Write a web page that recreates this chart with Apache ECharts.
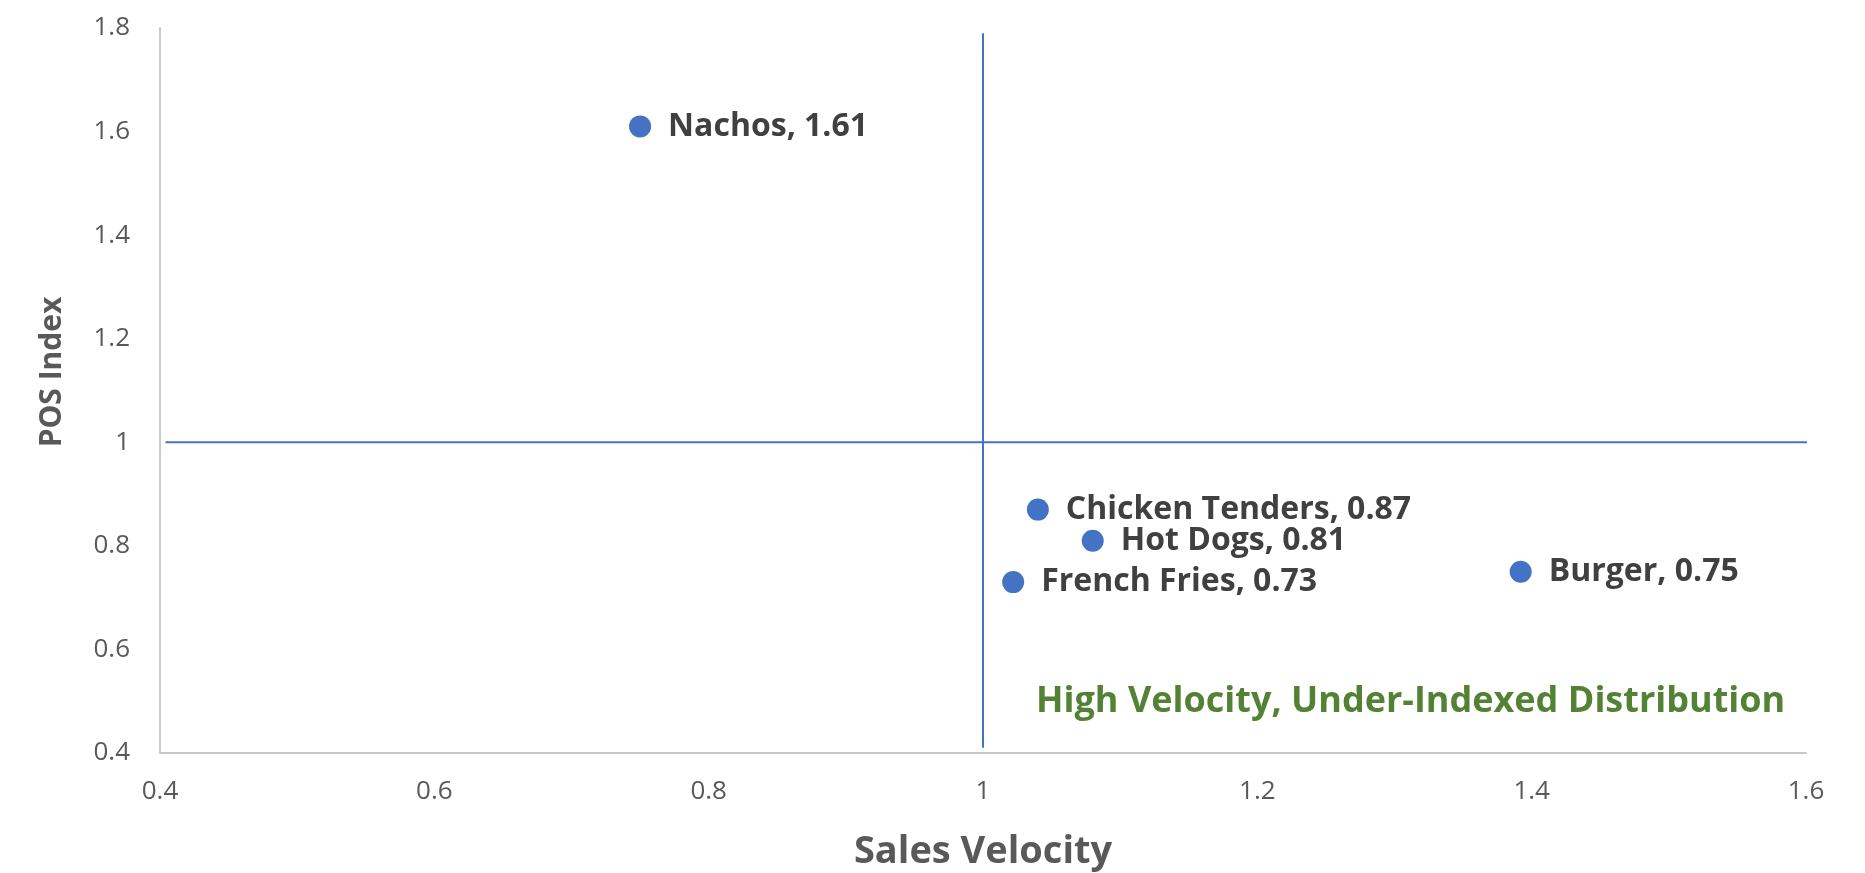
<!DOCTYPE html>
<html>
<head>
<meta charset="utf-8">
<script src="https://cdn.jsdelivr.net/npm/echarts@6/dist/echarts.min.js"></script>
<style>
html,body{margin:0;padding:0;background:#fff;}
#chart{width:1865px;height:873px;}
</style>
</head>
<body>
<div id="chart"></div>
<script>
// Data
var products = ['Nachos', 'Chicken Tenders', 'Hot Dogs', 'French Fries', 'Burger'];
var salesVelocity = [0.75, 1.04, 1.08, 1.022, 1.392];
var posIndex = [1.61, 0.87, 0.81, 0.73, 0.75];
var xTickLabels = ['0.4', '0.6', '0.8', '1', '1.2', '1.4', '1.6'];
var yTickLabels = ['0.4', '0.6', '0.8', '1', '1.2', '1.4', '1.6', '1.8'];
var hLineX = [0.404, 1.606];
var hLineY = [1, 1];
var vLineX = [1, 1];
var vLineY = [0.41, 1.79];
var quadrantNote = 'High Velocity, Under-Indexed Distribution';
var xTitle = 'Sales Velocity';
var yTitle = 'POS Index';

var FONT = '"Open Sans", "DejaVu Sans", sans-serif';
var chart = echarts.init(document.getElementById('chart'), null, {renderer: 'canvas'});

function tickFmt(labels, min, step) {
  return function (v) {
    var i = Math.round((v - min) / step);
    return labels[i] !== undefined ? labels[i] : '';
  };
}

var points = products.map(function (n, i) { return {name: n, value: [salesVelocity[i], posIndex[i]]}; });

chart.setOption({
  animation: false,
  backgroundColor: '#ffffff',
  grid: {left: 160, right: 59, top: 28, bottom: 120, containLabel: false, outerBoundsMode: 'none'},
  xAxis: {
    type: 'value', min: 0.4, max: 1.6, interval: 0.2,
    name: xTitle, nameLocation: 'middle', nameGap: 80,
    nameTextStyle: {fontFamily: FONT, fontWeight: 'bold', fontSize: 38, color: '#595959'},
    axisLine: {show: true, lineStyle: {color: '#c8c8c8', width: 2}},
    axisTick: {show: false},
    splitLine: {show: false},
    axisLabel: {margin: 26, fontFamily: FONT, fontSize: 26, color: '#595959', formatter: tickFmt(xTickLabels, 0.4, 0.2)}
  },
  yAxis: {
    type: 'value', min: 0.4, max: 1.8, interval: 0.2,
    axisLine: {show: true, lineStyle: {color: '#c8c8c8', width: 2}},
    axisTick: {show: false},
    splitLine: {show: false},
    axisLabel: {margin: 30, fontFamily: FONT, fontSize: 26, color: '#595959', formatter: tickFmt(yTickLabels, 0.4, 0.2)}
  },
  graphic: [
    {type: 'text', x: 52, y: 372, rotation: Math.PI / 2,
      style: {text: yTitle, font: 'bold 30px ' + FONT, fill: '#595959', textAlign: 'center', textVerticalAlign: 'middle'}},
    {type: 'text', x: 1036, y: 702,
      style: {text: quadrantNote, font: 'bold 36px ' + FONT, fill: '#548235', textAlign: 'left', textVerticalAlign: 'middle'}}
  ],
  series: [
    {type: 'line', data: hLineX.map(function (x, i) { return [x, hLineY[i]]; }), symbol: 'none', clip: false,
      lineStyle: {color: '#4472C4', width: 2}, silent: true, z: 1},
    {type: 'line', data: vLineX.map(function (x, i) { return [x, vLineY[i]]; }), symbol: 'none', clip: false,
      lineStyle: {color: '#4472C4', width: 2}, silent: true, z: 1},
    {type: 'scatter', data: points, symbolSize: 22, z: 3,
      itemStyle: {color: '#4472C4', opacity: 1},
      label: {show: true, position: 'right', distance: 17,
        fontFamily: FONT, fontWeight: 'bold', fontSize: 32, color: '#404040',
        formatter: function (p) { return p.name + ', ' + p.value[1].toFixed(2); }}}
  ]
});
</script>
</body>
</html>
